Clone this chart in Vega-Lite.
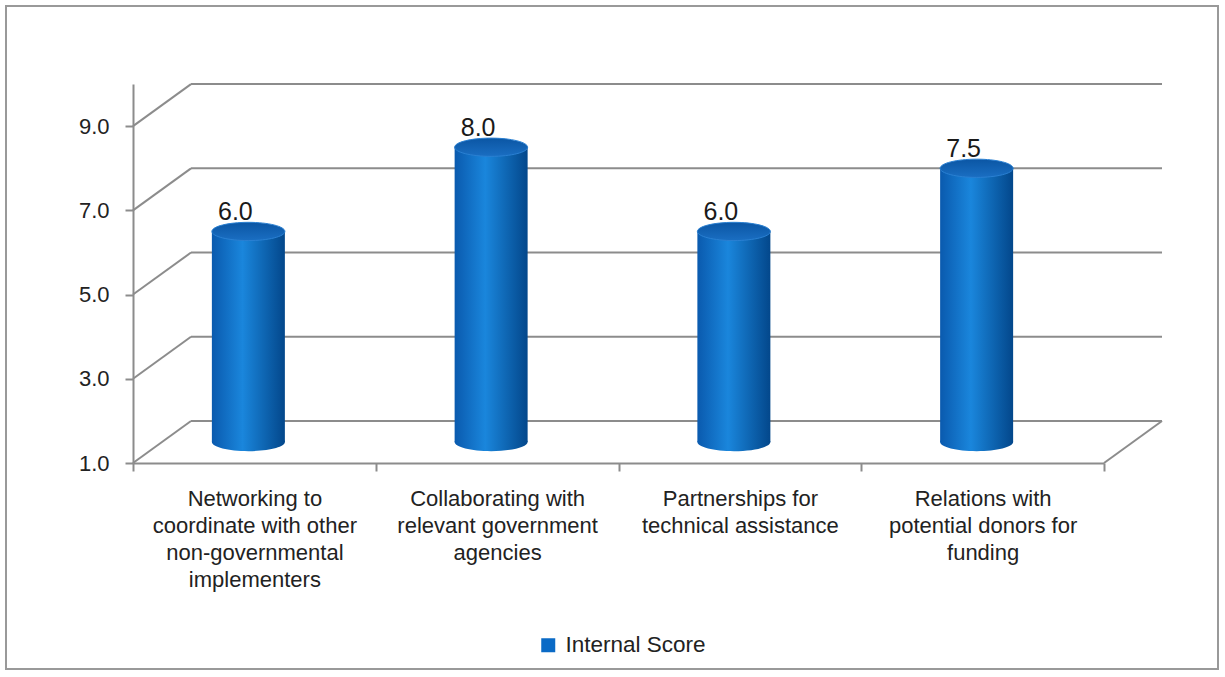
{
  "$schema": "https://vega.github.io/schema/vega-lite/v6.json",
  "autosize": {"type": "none"},
  "width": 971,
  "height": 379,
  "padding": {"left": 133, "top": 84, "right": 121, "bottom": 214},
  "background": "white",
  "config": {
    "view": {"stroke": null},
    "font": "Liberation Sans",
    "axis": {
      "domain": true,
      "domainColor": "#8c8c8c",
      "domainWidth": 2,
      "tickColor": "#8c8c8c",
      "tickWidth": 2,
      "tickSize": 8,
      "labelColor": "#222222",
      "labelFont": "Liberation Sans",
      "grid": false,
      "title": null
    }
  },
  "layer": [
    {
      "data": {"values": [{"v": 1}, {"v": 3}, {"v": 5}, {"v": 7}, {"v": 9}]},
      "layer": [
        {
          "mark": {"type": "rule", "color": "#8c8c8c", "strokeWidth": 2, "xOffset": 58, "x2Offset": 58, "yOffset": -42, "y2Offset": -42},
          "encoding": {
            "x": {"datum": 0, "type": "quantitative", "scale": {"domain": [0, 4], "nice": false, "zero": false}, "axis": null},
            "x2": {"datum": 4},
            "y": {"field": "v", "type": "quantitative", "scale": {"domain": [1, 10], "nice": false, "zero": false}, "axis": {"orient": "left", "domain": true, "domainColor": "#8c8c8c", "domainWidth": 2, "values": [1, 3, 5, 7, 9], "format": ".1f", "labelFontSize": 22, "labelPadding": 16}},
            "y2": {"field": "v"}
          }
        },
        {
          "mark": {"type": "rule", "color": "#8c8c8c", "strokeWidth": 2, "x2Offset": 58, "y2Offset": -42},
          "encoding": {
            "x": {"datum": 0, "type": "quantitative"},
            "x2": {"datum": 0},
            "y": {"field": "v", "type": "quantitative"},
            "y2": {"field": "v"}
          }
        },
        {
          "data": {"values": [{"v": 1}]},
          "mark": {"type": "rule", "color": "#8c8c8c", "strokeWidth": 2, "x2Offset": 58, "y2Offset": -42},
          "encoding": {
            "x": {"datum": 4, "type": "quantitative"},
            "x2": {"datum": 4},
            "y": {"field": "v", "type": "quantitative"},
            "y2": {"field": "v"}
          }
        },
        {
          "data": {"values": [{"v": 1}]},
          "mark": {"type": "rect", "filled": false, "stroke": "#999999", "strokeWidth": 2, "xOffset": -127, "x2Offset": 114, "yOffset": 206, "y2Offset": -78},
          "encoding": {
            "x": {"datum": 0, "type": "quantitative"},
            "x2": {"datum": 4},
            "y": {"field": "v", "type": "quantitative"},
            "y2": {"datum": 10}
          }
        }
      ]
    },
    {
      "data": {
        "values": [
          {"category": "Networking to coordinate with other non-governmental implementers", "score": 6.0, "series": "Internal Score"},
          {"category": "Collaborating with relevant government agencies", "score": 8.0, "series": "Internal Score"},
          {"category": "Partnerships for technical assistance", "score": 6.0, "series": "Internal Score"},
          {"category": "Relations with potential donors for funding", "score": 7.5, "series": "Internal Score"}
        ]
      },
      "encoding": {
        "x": {
          "field": "category",
          "type": "nominal",
          "sort": null,
          "scale": {"paddingInner": 0, "paddingOuter": 0},
          "axis": {
            "orient": "bottom",
            "domain": true,
            "labelAngle": 0,
            "tickBand": "extent",
            "labelFontSize": 22,
            "labelLineHeight": 27,
            "labelBaseline": "top",
            "labelPadding": 17,
            "labelLimit": 0,
            "labelExpr": "datum.value == 'Networking to coordinate with other non-governmental implementers' ? ['Networking to', 'coordinate with other', 'non-governmental', 'implementers'] : datum.value == 'Collaborating with relevant government agencies' ? ['Collaborating with', 'relevant government', 'agencies'] : datum.value == 'Partnerships for technical assistance' ? ['Partnerships for', 'technical assistance'] : datum.value == 'Relations with potential donors for funding' ? ['Relations with', 'potential donors for', 'funding'] : ''"
          }
        }
      },
      "layer": [
        {
          "mark": {
            "type": "point",
            "shape": "M -1 0 A 1 0.25 0 1 0 1 0 A 1 0.25 0 1 0 -1 0 Z",
            "size": 5329,
            "filled": true,
            "opacity": 1,
            "strokeWidth": 0,
            "xOffset": -6,
            "yOffset": -21,
            "fill": {"gradient": "linear", "x1": 0, "x2": 1, "y1": 0, "y2": 0, "stops": [{"offset": 0, "color": "#0a5aae"}, {"offset": 0.42, "color": "#1a86dc"}, {"offset": 1, "color": "#03478b"}]}
          },
          "encoding": {"y": {"datum": 1, "type": "quantitative"}}
        },
        {
          "mark": {
            "type": "bar",
            "width": 73,
            "xOffset": -6,
            "yOffset": -21,
            "y2Offset": -21,
            "fill": {"gradient": "linear", "x1": 0, "x2": 1, "y1": 0, "y2": 0, "stops": [{"offset": 0, "color": "#0a5aae"}, {"offset": 0.42, "color": "#1a86dc"}, {"offset": 1, "color": "#03478b"}]}
          },
          "encoding": {
            "y": {"field": "score", "type": "quantitative"},
            "y2": {"datum": 1}
          }
        },
        {
          "mark": {
            "type": "point",
            "shape": "M -1 0 A 1 0.25 0 1 0 1 0 A 1 0.25 0 1 0 -1 0 Z",
            "size": 5329,
            "filled": true,
            "opacity": 1,
            "stroke": "#2a80d2",
            "strokeWidth": 1,
            "xOffset": -6,
            "yOffset": -21,
            "fill": {"gradient": "linear", "x1": 0, "x2": 0, "y1": 0, "y2": 1, "stops": [{"offset": 0, "color": "#0b56a4"}, {"offset": 1, "color": "#1a6ec2"}]}
          },
          "encoding": {"y": {"field": "score", "type": "quantitative"}}
        },
        {
          "mark": {"type": "text", "font": "Liberation Sans", "fontSize": 25, "color": "#1a1a1a", "align": "center", "baseline": "alphabetic", "xOffset": -19, "yOffset": -32},
          "encoding": {
            "y": {"field": "score", "type": "quantitative"},
            "text": {"field": "score", "type": "quantitative", "format": ".1f"}
          }
        },
        {
          "mark": {"type": "square", "opacity": 0, "size": 10},
          "encoding": {
            "y": {"field": "score", "type": "quantitative"},
            "color": {
              "field": "series",
              "type": "nominal",
              "scale": {"range": ["#0a6ac6"]},
              "legend": {
                "orient": "none",
                "legendX": 404,
                "legendY": 550,
                "title": null,
                "padding": 0,
                "symbolType": "square",
                "symbolSize": 196,
                "symbolOpacity": 1,
                "symbolStrokeWidth": 0,
                "labelFont": "Liberation Sans",
                "labelFontSize": 22.5,
                "labelColor": "#222222",
                "labelOffset": 6
              }
            }
          }
        }
      ]
    }
  ],
  "resolve": {"scale": {"x": "independent"}}
}
